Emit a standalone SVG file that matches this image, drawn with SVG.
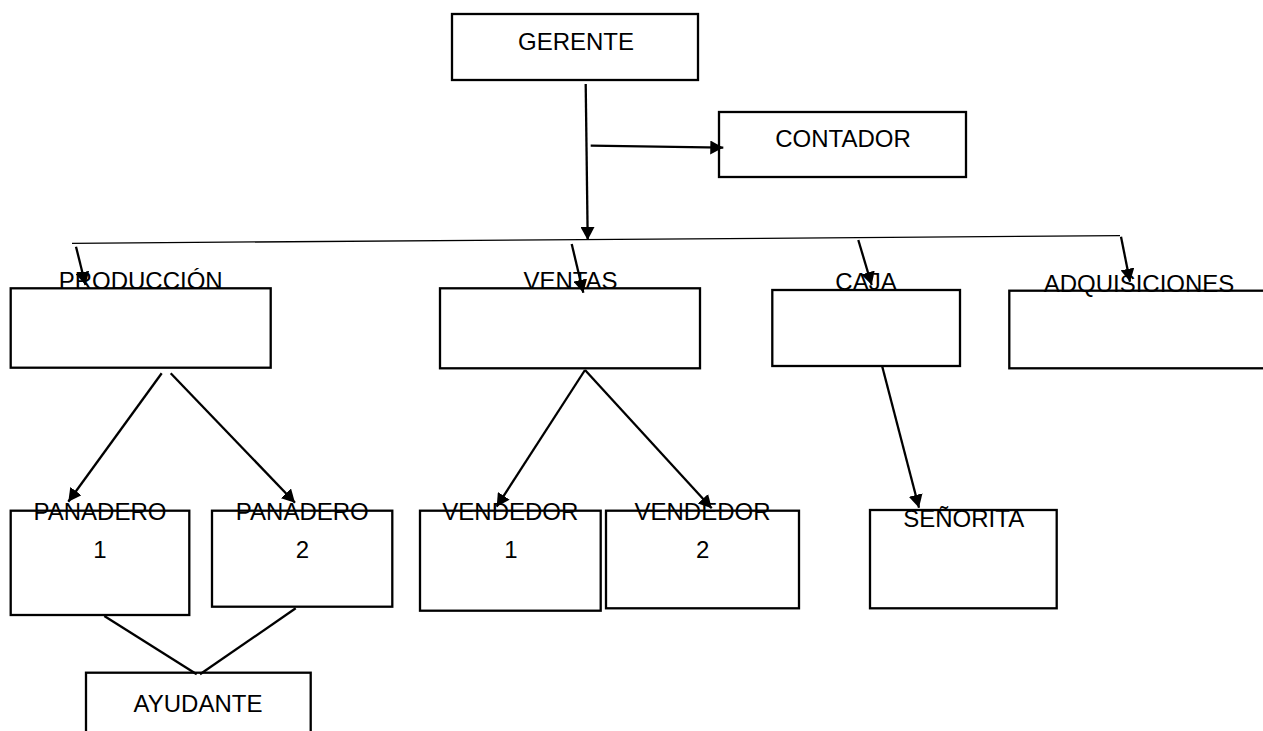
<svg xmlns="http://www.w3.org/2000/svg" width="1263" height="731" viewBox="0 0 1263 731">
<style>
.box{fill:none;stroke:#000;stroke-width:2.3}
.lbl{font-family:"Liberation Sans",Arial,sans-serif;font-size:24px;fill:#000;text-anchor:middle}
.con{stroke:#000;stroke-width:2.3;fill:none}
.thin{stroke:#000;stroke-width:1.3;fill:none}
</style>
<defs>
<marker id="arr" markerUnits="userSpaceOnUse" viewBox="0 0 13 14" refX="13" refY="7" markerWidth="13" markerHeight="14" orient="auto">
<path d="M0,0 L13,7 L0,14 z" fill="#000"/>
</marker>
</defs>
<rect x="0" y="0" width="1263" height="731" fill="#fff"/>
<g id="connectors">
<line class="con" x1="585.7" y1="84" x2="587.7" y2="240" marker-end="url(#arr)"/>
<line class="con" x1="590.7" y1="145.7" x2="723.3" y2="147.7" marker-end="url(#arr)"/>
<line class="thin" x1="72" y1="243.3" x2="1120" y2="235.7"/>
<line class="con" x1="76" y1="246.7" x2="85.5" y2="285" marker-end="url(#arr)"/>
<line class="con" x1="571.7" y1="244" x2="583.3" y2="292.7" marker-end="url(#arr)"/>
<line class="con" x1="858.3" y1="240" x2="871.7" y2="285" marker-end="url(#arr)"/>
<line class="con" x1="1121" y1="236.7" x2="1130" y2="281.7" marker-end="url(#arr)"/>
<line class="con" x1="161.7" y1="373.3" x2="68.3" y2="501.7" marker-end="url(#arr)"/>
<line class="con" x1="170.7" y1="373.3" x2="295" y2="502.7" marker-end="url(#arr)"/>
<line class="con" x1="585" y1="370" x2="496.7" y2="506.7" marker-end="url(#arr)"/>
<line class="con" x1="585" y1="370" x2="711.7" y2="508.3" marker-end="url(#arr)"/>
<line class="con" x1="882.3" y1="366.7" x2="919" y2="507.7" marker-end="url(#arr)"/>
<line class="con" x1="104.3" y1="616" x2="196.7" y2="674.3"/>
<line class="con" x1="295.7" y1="608.3" x2="200" y2="674.3"/>
</g>
<g id="gerente">
<rect class="box" x="452" y="14" width="246" height="66"/>
<text class="lbl" x="576" y="50">GERENTE</text>
</g>
<g id="contador">
<rect class="box" x="719" y="112" width="247" height="65"/>
<text class="lbl" x="843" y="147">CONTADOR</text>
</g>
<g id="produccion">
<rect class="box" x="10.7" y="288.3" width="260" height="79.4"/>
<text class="lbl" x="140.7" y="289">PRODUCCIÓN</text>
</g>
<g id="ventas">
<rect class="box" x="440" y="288.3" width="260" height="80"/>
<text class="lbl" x="570.5" y="289">VENTAS</text>
</g>
<g id="caja">
<rect class="box" x="772.3" y="290" width="187.7" height="76"/>
<text class="lbl" x="866" y="290">CAJA</text>
</g>
<g id="adquisiciones">
<rect class="box" x="1009.3" y="290.7" width="270" height="77.6"/>
<text class="lbl" x="1139" y="292">ADQUISICIONES</text>
</g>
<g id="panadero1">
<rect class="box" x="10.7" y="510.7" width="178.6" height="104.3"/>
<text class="lbl" x="100" y="520">PANADERO</text>
<text class="lbl" x="100" y="558">1</text>
</g>
<g id="panadero2">
<rect class="box" x="212" y="510.7" width="180.3" height="96"/>
<text class="lbl" x="302.3" y="520">PANADERO</text>
<text class="lbl" x="302.5" y="558">2</text>
</g>
<g id="vendedor1">
<rect class="box" x="420" y="510.7" width="180.7" height="100"/>
<text class="lbl" x="510.3" y="520">VENDEDOR</text>
<text class="lbl" x="511" y="558">1</text>
</g>
<g id="vendedor2">
<rect class="box" x="606" y="510.7" width="193" height="97.6"/>
<text class="lbl" x="702.5" y="520">VENDEDOR</text>
<text class="lbl" x="702.7" y="558">2</text>
</g>
<g id="senorita">
<rect class="box" x="870" y="510" width="186.7" height="98.3"/>
<text class="lbl" x="963.7" y="526.7">SEÑORITA</text>
</g>
<g id="ayudante">
<rect class="box" x="86" y="672.7" width="224.7" height="70"/>
<text class="lbl" x="198" y="711.7">AYUDANTE</text>
</g>
</svg>
